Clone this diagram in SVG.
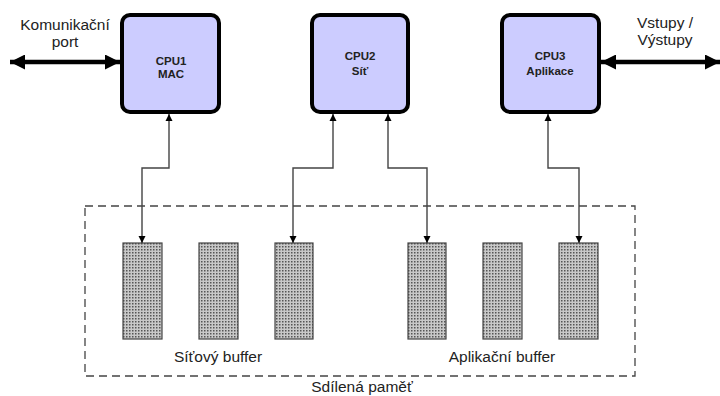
<svg xmlns="http://www.w3.org/2000/svg" width="720" height="396" viewBox="0 0 720 396">
<style>
.cpu{fill:#ccccff;stroke:#000;stroke-width:4}
.cpuT{font-family:"Liberation Sans",Arial,sans-serif;font-size:11.5px;font-weight:bold;fill:#222;text-anchor:middle}
.lbl{font-family:"Liberation Sans",Arial,sans-serif;font-size:15.5px;fill:#222;text-anchor:middle}
.buf{fill:url(#dots);stroke:#444;stroke-width:1.2}
.con{fill:none;stroke:#444;stroke-width:1.4}
.thick{fill:none;stroke:#000;stroke-width:4.5}
.mem{fill:none;stroke:#444;stroke-width:1.3;stroke-dasharray:8 5}
</style>
<defs>
<pattern id="dots" width="3" height="3" patternUnits="userSpaceOnUse">
<rect width="3" height="3" fill="#c8c8c8"/>
<rect width="1.5" height="1.5" fill="#555"/>
</pattern>
<marker id="sa" viewBox="0 0 10 10" refX="10" refY="5" markerWidth="7" markerHeight="8" markerUnits="userSpaceOnUse" orient="auto-start-reverse">
<path d="M0,0 L10,5 L0,10 z" fill="#000"/>
</marker>
<marker id="ba" viewBox="0 0 10 10" refX="10" refY="5" markerWidth="22" markerHeight="15" markerUnits="userSpaceOnUse" orient="auto-start-reverse">
<path d="M0,0 L10,5 L0,10 z" fill="#000"/>
</marker>
</defs>
<rect width="720" height="396" fill="#fff"/>

<g id="memory">
<rect class="mem" x="85" y="206" width="550" height="170"/>
<text class="lbl" x="362" y="392">Sdílená paměť</text>
</g>

<g id="sitovy-buffer">
<rect class="buf" x="123" y="243" width="39" height="96"/>
<rect class="buf" x="199" y="243" width="39" height="96"/>
<rect class="buf" x="275" y="243" width="38" height="96"/>
<text class="lbl" x="218" y="362">Síťový buffer</text>
</g>

<g id="aplikacni-buffer">
<rect class="buf" x="408" y="243" width="38" height="96"/>
<rect class="buf" x="483" y="243" width="39" height="96"/>
<rect class="buf" x="559" y="243" width="39" height="96"/>
<text class="lbl" x="502" y="362">Aplikační buffer</text>
</g>

<g id="cpu1">
<rect class="cpu" x="122" y="15" width="97" height="97" rx="8"/>
<text class="cpuT" x="171" y="65">CPU1</text>
<text class="cpuT" x="171" y="78">MAC</text>
</g>

<g id="cpu2">
<rect class="cpu" x="312" y="15" width="96" height="97" rx="8"/>
<text class="cpuT" x="360" y="60">CPU2</text>
<text class="cpuT" x="360" y="75">Síť</text>
</g>

<g id="cpu3">
<rect class="cpu" x="502" y="15" width="97" height="97" rx="8"/>
<text class="cpuT" x="550" y="60">CPU3</text>
<text class="cpuT" x="550" y="75">Aplikace</text>
</g>

<g id="port-label">
<text class="lbl" x="65" y="30">Komunikační</text>
<text class="lbl" x="65" y="47">port</text>
</g>
<g id="io-label">
<text class="lbl" x="665" y="28">Vstupy /</text>
<text class="lbl" x="665" y="45">Výstupy</text>
</g>

<g id="connectors">
<line class="thick" x1="10" y1="62" x2="120" y2="62" marker-start="url(#ba)" marker-end="url(#ba)"/>
<line class="thick" x1="601" y1="62" x2="720" y2="62" marker-start="url(#ba)" marker-end="url(#ba)"/>
<polyline class="con" points="169,114 169,168 142,168 142,243" marker-start="url(#sa)" marker-end="url(#sa)"/>
<polyline class="con" points="333,114 333,168 293,168 293,243" marker-start="url(#sa)" marker-end="url(#sa)"/>
<polyline class="con" points="388,114 388,168 427,168 427,243" marker-start="url(#sa)" marker-end="url(#sa)"/>
<polyline class="con" points="548,114 548,168 579,168 579,243" marker-start="url(#sa)" marker-end="url(#sa)"/>
</g>
</svg>
